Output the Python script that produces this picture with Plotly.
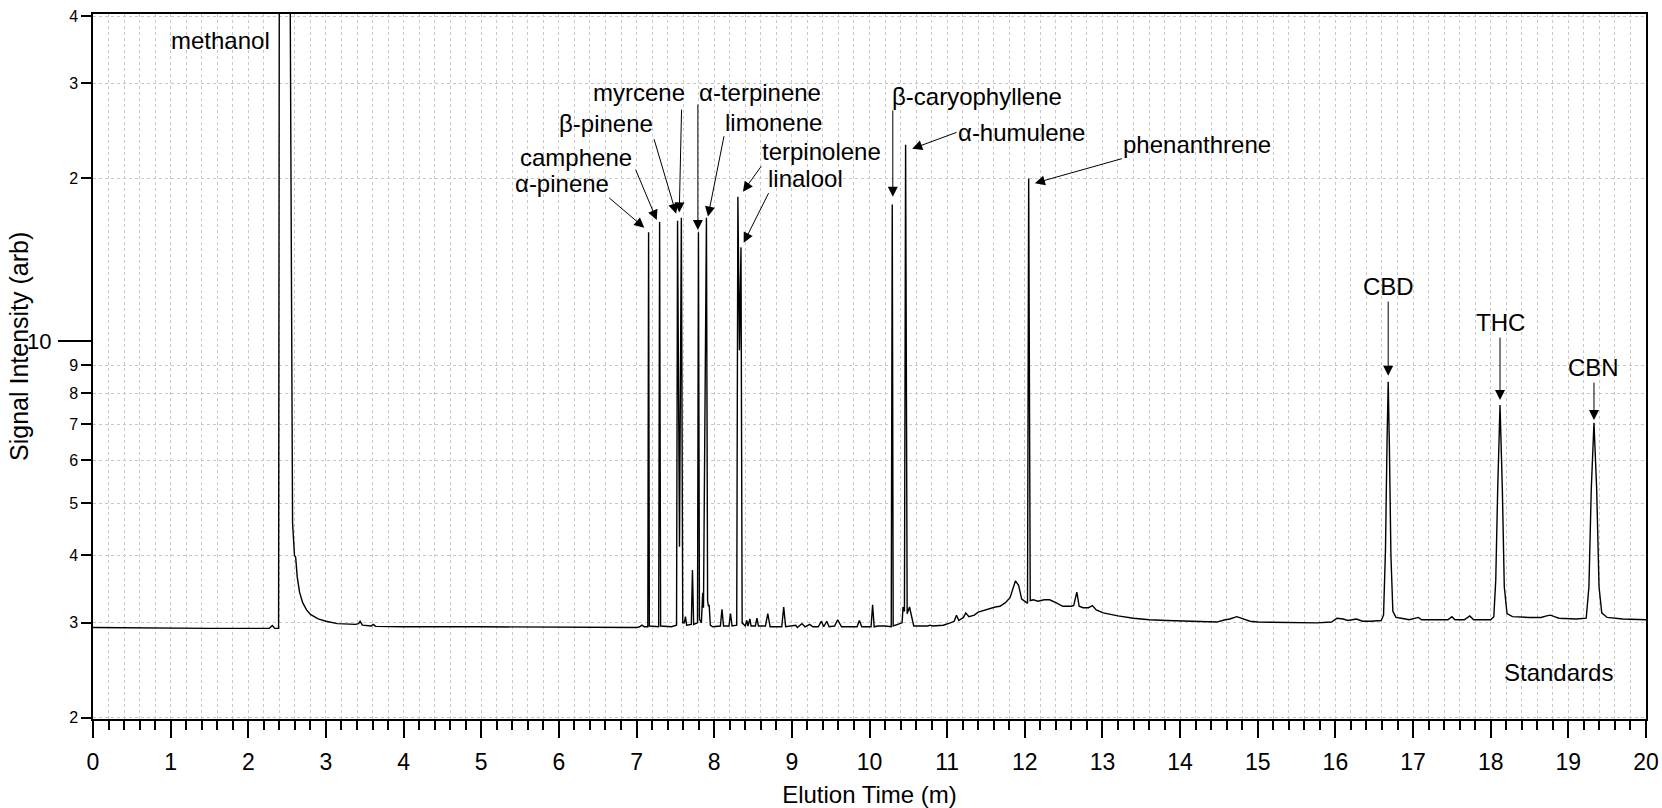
import math
import plotly.graph_objects as go

# ---- chromatogram trace (time in minutes, signal in arb. units) ----
time_min = [
    0.00, 0.50, 1.00, 1.50, 2.00, 2.27, 2.31, 2.34, 2.39,
    2.40, 2.535, 2.57, 2.595, 2.61, 2.63, 2.66, 2.70, 2.75, 2.80, 2.90, 3.00, 3.15,
    3.38, 3.42, 3.44, 3.47, 3.58, 3.61, 3.64, 4.00, 5.00, 6.00, 7.00, 7.04, 7.07, 7.10,
    7.145, 7.155, 7.165, 7.285, 7.297, 7.31, 7.45, 7.515, 7.528, 7.553, 7.577, 7.595,
    7.615, 7.63, 7.645, 7.705, 7.72, 7.735, 7.785, 7.797, 7.81, 7.835, 7.852, 7.862,
    7.90, 7.915, 7.925, 7.935, 7.95, 7.98, 8.08, 8.10, 8.12, 8.19, 8.21, 8.23,
    8.29, 8.305, 8.325, 8.345, 8.36, 8.40, 8.42, 8.435, 8.46, 8.475, 8.53, 8.55, 8.57,
    8.66, 8.69, 8.72, 8.87, 8.895, 8.92, 9.05, 9.07, 9.13, 9.17, 9.23, 9.27, 9.34,
    9.38, 9.41, 9.45, 9.48, 9.55, 9.59, 9.64, 9.84, 9.87, 9.90, 10.02, 10.04, 10.06,
    10.11, 10.20, 10.28, 10.293, 10.305, 10.42, 10.432, 10.45, 10.465, 10.485, 10.515,
    10.535, 10.57, 10.75, 10.78, 10.81, 10.95, 11.04, 11.09, 11.12, 11.15, 11.21, 11.24,
    11.28, 11.35, 11.40, 11.46, 11.55, 11.62, 11.68, 11.75, 11.81, 11.85, 11.88, 11.92,
    11.96, 12.01, 12.035, 12.05, 12.07, 12.11, 12.17, 12.25, 12.32, 12.40, 12.49, 12.60,
    12.63, 12.67, 12.70, 12.75, 12.82, 12.87, 12.92, 13.01, 13.20, 13.40, 13.60, 13.83,
    14.10, 14.47, 14.58, 14.64, 14.73, 14.82, 14.90, 15.00, 15.40, 15.76, 15.95, 16.02,
    16.10, 16.16, 16.27, 16.35, 16.45, 16.59, 16.62, 16.645, 16.665, 16.68, 16.695,
    16.715, 16.74, 16.78, 16.85, 16.95, 17.07, 17.11, 17.30, 17.45, 17.50, 17.54, 17.66,
    17.73, 17.78, 18.00, 18.04, 18.065, 18.09, 18.12, 18.15, 18.175, 18.21, 18.28,
    18.50, 18.65, 18.72, 18.77, 18.82, 18.88, 19.10, 19.23, 19.265, 19.295, 19.33,
    19.365, 19.395, 19.43, 19.50, 19.70, 20.00,
]
signal = [
    2.94, 2.935, 2.93, 2.93, 2.93, 2.93, 2.965, 2.93, 2.93,
    60.0, 60.0, 4.6, 4.0, 3.97, 3.65, 3.42, 3.27, 3.17, 3.11, 3.05, 3.02, 2.99,
    2.98, 2.99, 3.02, 2.97, 2.96, 2.98, 2.955, 2.95, 2.95, 2.945, 2.94, 2.95, 2.97, 2.95,
    2.95, 15.9, 2.96, 2.95, 16.6, 2.96, 2.95, 2.97, 16.7, 4.15, 16.9, 3.0,
    3.0, 3.08, 2.97, 2.98, 3.76, 2.98, 3.0, 15.9, 3.05, 3.0, 3.41, 3.2,
    16.9, 3.3, 3.22, 3.24, 2.97, 2.95, 2.96, 3.18, 2.96, 2.96, 3.12, 2.96,
    2.97, 18.5, 9.6, 14.9, 3.0, 2.96, 3.03, 2.96, 3.05, 2.96, 2.96, 3.06, 2.96,
    2.96, 3.12, 2.95, 2.95, 3.21, 2.95, 2.97, 2.94, 2.99, 2.95, 2.98, 2.95, 2.95,
    3.02, 2.95, 3.02, 2.95, 2.96, 3.04, 2.95, 2.95, 3.03, 2.95, 2.95, 3.24, 2.95,
    2.96, 2.96, 2.95, 17.9, 2.96, 3.0, 3.21, 3.15, 23.1, 3.12, 3.21,
    3.1, 2.96, 2.96, 2.97, 2.96, 2.97, 3.0, 3.02, 3.1, 3.03, 3.07, 3.13,
    3.08, 3.1, 3.14, 3.16, 3.18, 3.21, 3.22, 3.27, 3.34, 3.5, 3.59, 3.52,
    3.32, 3.28, 3.26, 20.0, 3.3, 3.31, 3.29, 3.31, 3.31, 3.27, 3.22, 3.22,
    3.23, 3.42, 3.22, 3.2, 3.2, 3.23, 3.17, 3.13, 3.09, 3.06, 3.04, 3.03,
    3.02, 3.01, 3.04, 3.05, 3.08, 3.05, 3.02, 3.01, 3.0, 3.0, 3.01, 3.06,
    3.05, 3.03, 3.05, 3.02, 3.02, 3.03, 3.1, 4.1, 6.5, 8.4, 6.4,
    4.0, 3.15, 3.07, 3.06, 3.04, 3.07, 3.04, 3.04, 3.04, 3.08, 3.04, 3.04,
    3.09, 3.04, 3.04, 3.08, 3.6, 5.3, 7.6, 5.3, 3.5, 3.12, 3.08,
    3.07, 3.07, 3.09, 3.1, 3.08, 3.06, 3.05, 3.06, 3.5, 5.3, 7.05,
    5.3, 3.5, 3.13, 3.07, 3.05, 3.04,
]

# ---- peak labels: text position, arrow tail, arrow head (time, signal) ----
label_names = ["α-pinene", "camphene", "β-pinene", "myrcene", "α-terpinene",
               "limonene", "terpinolene", "linalool", "β-caryophyllene",
               "α-humulene", "phenanthrene", "CBD", "THC", "CBN"]
label_x = [6.04, 6.22, 6.61, 7.03, 8.59, 8.76, 9.38, 9.18, 11.38, 11.96, 14.22, 16.68, 18.12, 19.33]
label_y = [19.6, 21.9, 25.3, 28.9, 28.9, 25.4, 22.4, 20.0, 28.4, 24.3, 23.1, 12.6, 10.8, 8.94]
tail_x = [6.63, 6.98, 7.22, 7.58, 7.79, 8.13, 8.62, 8.71, 10.30, 11.14, 13.27, 16.68, 18.12, 19.33]
tail_y = [18.5, 20.9, 23.8, 27.0, 27.6, 24.1, 21.2, 18.9, 26.9, 24.4, 21.8, 11.9, 10.2, 8.42]
head_x = [7.10, 7.26, 7.51, 7.55, 7.79, 7.92, 8.37, 8.38, 10.30, 10.55, 12.13, 16.68, 18.12, 19.33]
head_y = [16.2, 16.75, 17.2, 17.3, 16.05, 17.0, 18.9, 15.2, 18.5, 22.7, 19.6, 8.61, 7.77, 7.13]

plain_labels = ["methanol", "Standards"]
plain_x = [1.64, 18.87]
plain_y = [36.1, 2.43]

y_tickvals = [2, 3, 4, 5, 6, 7, 8, 9, 20, 30, 40]
y_ticktext = ["2", "3", "4", "5", "6", "7", "8", "9", "2", "3", "4"]

FONT = "Liberation Sans, Arial, Helvetica, sans-serif"
GRID = "#c8c8c8"

fig = go.Figure()
fig.add_trace(go.Scatter(x=time_min, y=signal, mode="lines",
                         line=dict(color="black", width=1.4), showlegend=False,
                         hoverinfo="x+y"))
# same series on the overlaid axis that carries the major "10" tick (invisible)
fig.add_trace(go.Scatter(x=time_min, y=signal, mode="lines", yaxis="y2",
                         line=dict(color="rgba(0,0,0,0)", width=0), showlegend=False,
                         hoverinfo="skip"))

annotations = []
for name, lx, ly, tx, ty, hx, hy in zip(label_names, label_x, label_y, tail_x, tail_y, head_x, head_y):
    annotations.append(dict(x=hx, y=math.log10(hy), ax=tx, ay=math.log10(ty),
                            xref="x", yref="y", axref="x", ayref="y", text="",
                            showarrow=True, arrowhead=2, arrowsize=2.0, arrowwidth=1,
                            arrowcolor="black"))
    annotations.append(dict(x=lx, y=math.log10(ly), xref="x", yref="y", text=name,
                            showarrow=False, xanchor="center", yanchor="middle",
                            font=dict(family=FONT, size=24, color="black")))
for name, lx, ly in zip(plain_labels, plain_x, plain_y):
    annotations.append(dict(x=lx, y=math.log10(ly), xref="x", yref="y", text=name,
                            showarrow=False, xanchor="center", yanchor="middle",
                            font=dict(family=FONT, size=24, color="black")))
# y-axis title (placed slightly above the axis middle, as in the reference)
annotations.append(dict(x=-0.0475, y=0.528, xref="paper", yref="paper",
                        text="Signal Intensity (arb)", textangle=-90, showarrow=False,
                        xanchor="center", yanchor="middle",
                        font=dict(family=FONT, size=25, color="black")))

yrange = [math.log10(1.99), math.log10(40.35)]

fig.update_layout(
    width=1662, height=808,
    margin=dict(l=93, r=16, t=14, b=89, autoexpand=False),
    paper_bgcolor="white", plot_bgcolor="white",
    font=dict(family=FONT, color="black"),
    annotations=annotations,
    xaxis=dict(
        range=[0, 20], tickmode="linear", tick0=0, dtick=1,
        ticks="outside", ticklen=17, tickwidth=1.5, tickcolor="black",
        ticklabelstandoff=5, automargin=False, ticklabeloverflow="allow",
        tickfont=dict(size=23, family=FONT, color="black"),
        showline=True, linecolor="black", linewidth=1.5, mirror=True,
        showgrid=True, gridcolor=GRID, griddash="dot", gridwidth=1,
        minor=dict(dtick=0.2, ticks="outside", ticklen=9, tickwidth=1.5,
                   tickcolor="black", showgrid=True, gridcolor=GRID,
                   griddash="dot", gridwidth=1),
        zeroline=False,
        title=dict(text="Elution Time (m)", font=dict(size=24, family=FONT, color="black"),
                   standoff=14),
    ),
    yaxis=dict(
        type="log", range=yrange, automargin=False, ticklabeloverflow="allow",
        tickmode="array", tickvals=y_tickvals, ticktext=y_ticktext,
        ticks="outside", ticklen=10, tickwidth=1.5, tickcolor="black",
        tickfont=dict(size=16, family=FONT, color="black"),
        showline=True, linecolor="black", linewidth=1.5, mirror=True,
        showgrid=True, gridcolor=GRID, griddash="dot", gridwidth=1,
        zeroline=False,
    ),
    yaxis2=dict(
        type="log", range=yrange, overlaying="y", side="left", anchor="x",
        automargin=False,
        tickmode="array", tickvals=[10], ticktext=["10"],
        ticks="outside", ticklen=34, tickwidth=1.5, tickcolor="black",
        ticklabelstandoff=2,
        tickfont=dict(size=22, family=FONT, color="black"),
        showgrid=False, showline=False, zeroline=False,
    ),
)

# remove the default page margin so the figure fills the window exactly
fig.write_html("out.html", config={"displayModeBar": False},
               post_script="document.body.style.margin='0';document.body.style.overflow='hidden';")
